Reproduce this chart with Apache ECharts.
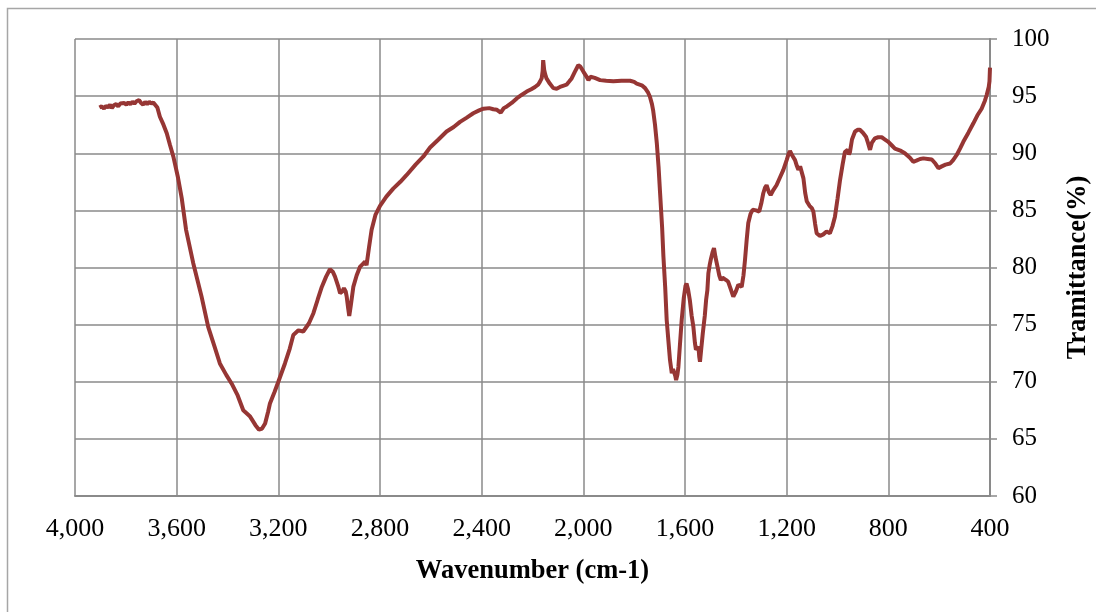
<!DOCTYPE html>
<html lang="en">
<head>
    <meta charset="UTF-8">
    <title>FTIR</title>
    <script src="https://cdn.jsdelivr.net/npm/echarts@6/dist/echarts.min.js"></script>
    <style>
        html, body { margin: 0; padding: 0; background: #fff; }
    </style>
</head>
<body>
<div id="main" style="width: 1096px; height: 612px;"></div>
<script type="text/javascript">

    // wavenumber (cm-1) and transmittance (%)
    const wavenumbers = [
        3904, 3895, 3886, 3878, 3870, 3862, 3855, 3847, 3838, 3830, 3822, 3815, 3806, 3798, 3790, 3782,
        3774, 3766, 3758, 3748, 3740, 3732, 3724, 3716, 3708, 3700, 3692, 3685, 3676, 3666, 3652, 3639,
        3626, 3613, 3595, 3580, 3563, 3535, 3502, 3476, 3450, 3430, 3405, 3384, 3360, 3338, 3311, 3290,
        3276, 3264, 3252, 3240, 3233, 3215, 3200, 3174, 3155, 3141, 3121, 3102, 3080, 3062, 3045, 3029,
        3012, 2997, 2985, 2977, 2965, 2957, 2948, 2942, 2935, 2931, 2925, 2921, 2916, 2905, 2892, 2879,
        2868, 2859, 2853, 2850, 2843, 2833, 2818, 2800, 2775, 2748, 2720, 2695, 2660, 2630, 2603, 2570,
        2538, 2510, 2485, 2460, 2433, 2410, 2393, 2370, 2354, 2340, 2325, 2313, 2301, 2282, 2262, 2243,
        2223, 2205, 2190, 2178, 2171, 2164, 2160, 2158, 2154, 2150, 2145, 2132, 2118, 2105, 2092, 2080,
        2066, 2055, 2046, 2034, 2020, 2012, 2000, 1990, 1980, 1972, 1967, 1955, 1934, 1910, 1882, 1850,
        1816, 1800, 1790, 1770, 1757, 1745, 1738, 1730, 1725, 1718, 1711, 1704, 1698, 1690, 1685, 1678,
        1672, 1665, 1659, 1652, 1647, 1643, 1638, 1635, 1630, 1626, 1620, 1613, 1605, 1598, 1594, 1588,
        1581, 1574, 1567, 1561, 1557, 1552, 1547, 1544, 1541, 1536, 1530, 1522, 1517, 1512, 1508, 1503,
        1499, 1492, 1486, 1480, 1472, 1465, 1459, 1452, 1446, 1438, 1430, 1420, 1410, 1400, 1390, 1383,
        1377, 1370, 1364, 1357, 1351, 1342, 1334, 1320, 1308, 1300, 1292, 1285, 1279, 1270, 1263, 1252,
        1240, 1226, 1213, 1200, 1193, 1187, 1178, 1167, 1160, 1154, 1147, 1141, 1134, 1127, 1121, 1110,
        1101, 1095, 1088, 1082, 1069, 1056, 1043, 1030, 1020, 1010, 1000, 990, 980, 971, 960, 955,
        951, 943, 931, 920, 912, 900, 888, 880, 872, 865, 853, 840, 826, 813, 800, 787,
        774, 750, 735, 728, 715, 702, 690, 675, 662, 645, 629, 615, 603, 590, 575, 557,
        545, 531, 518, 505, 485, 466, 450, 433, 420, 413, 405, 402, 400
    ]
    const transmittance = [
        94.0, 94.1, 93.9, 94.15, 94.0, 94.25, 93.95, 94.2, 94.3, 94.1, 94.35, 94.2, 94.4, 94.25, 94.45, 94.3,
        94.5, 94.35, 94.55, 94.65, 94.4, 94.25, 94.5, 94.3, 94.5, 94.35, 94.45, 94.35, 94.0, 93.2, 92.5, 91.75,
        90.7, 89.7, 87.9, 86.05, 83.3, 80.4, 77.45, 74.8, 73.0, 71.6, 70.6, 69.85, 68.8, 67.5, 66.95, 66.2,
        65.8, 65.9, 66.35, 67.4, 68.1, 69.1, 70.0, 71.6, 72.9, 74.1, 74.5, 74.4, 75.1, 76.0, 77.2, 78.3,
        79.2, 79.85, 79.6, 79.2, 78.4, 77.75, 77.9, 78.2, 77.9, 77.45, 76.4, 75.75, 76.5, 78.3, 79.3, 80.05,
        80.3, 80.5, 80.2, 80.05, 81.8, 83.3, 84.6, 85.4, 86.2, 86.9, 87.5, 88.1, 89.0, 89.7, 90.5, 91.2,
        91.9, 92.3, 92.75, 93.1, 93.5, 93.75, 93.9, 93.95, 93.85, 93.8, 93.55, 93.95, 94.1, 94.4, 94.8, 95.1,
        95.4, 95.6, 95.8, 96.0, 96.25, 96.55, 97.2, 98.15, 97.3, 96.9, 96.55, 96.1, 95.7, 95.65, 95.8, 95.9,
        96.0, 96.3, 96.55, 97.1, 97.7, 97.6, 97.15, 96.8, 96.4, 96.7, 96.85, 96.6, 96.4, 96.35, 96.3, 96.35,
        96.35, 96.25, 96.1, 95.95, 95.7, 95.3, 94.95, 94.3, 93.7, 92.5, 90.9, 88.8, 86.5, 83.5, 81.0, 78.3,
        75.4, 73.5, 71.9, 70.75, 71.1, 71.2, 70.5, 70.15, 70.6, 71.3, 73.2, 75.4, 77.3, 78.4, 78.6, 78.1,
        77.15, 75.8, 74.8, 73.4, 72.8, 72.9, 73.05, 72.2, 71.75, 72.9, 74.25, 75.8, 77.15, 78.0, 79.5, 80.2,
        80.65, 81.3, 81.7, 80.9, 80.05, 79.3, 78.9, 79.1, 79.2, 78.9, 78.75, 78.1, 77.45, 77.9, 78.5, 78.4,
        78.3, 79.3, 80.65, 82.5, 83.9, 84.7, 85.05, 85.0, 84.9, 85.6, 86.5, 87.0, 87.2, 86.6, 86.35, 86.8,
        87.2, 87.9, 88.55, 89.4, 89.9, 90.2, 89.8, 89.4, 88.9, 88.55, 88.85, 88.8, 87.8, 86.5, 85.8, 85.4,
        85.2, 84.9, 83.8, 83.0, 82.75, 82.9, 83.15, 83.0, 83.6, 84.45, 86.0, 87.65, 89.0, 90.1, 90.3, 89.9,
        90.1, 91.2, 91.9, 92.05, 92.05, 91.8, 91.45, 90.9, 90.3, 90.9, 91.3, 91.4, 91.4, 91.2, 91.0, 90.7,
        90.4, 90.2, 90.0, 90.0, 89.6, 89.25, 89.35, 89.5, 89.55, 89.5, 89.45, 89.1, 88.7, 88.85, 89.0, 89.1,
        89.4, 89.85, 90.4, 91.0, 91.8, 92.6, 93.3, 93.9, 94.6, 95.1, 95.8, 96.3, 97.5
    ]

    const xTicks = [400, 800, 1200, 1600, 2000, 2400, 2800, 3200, 3600, 4000]
    const yTicks = [60, 65, 70, 75, 80, 85, 90, 95, 100]

    const serif = '"Liberation Serif", "Times New Roman", serif'
    const gridColor = '#8a8a8a'

    let chart = echarts.init(document.getElementById('main'))

    chart.setOption({
        animation: false,
        textStyle: { fontFamily: serif },
        graphic: [{
            type: 'rect',
            shape: { x: 7.5, y: 8.5, width: 1200, height: 700 },
            style: { fill: 'none', stroke: '#a6a6a6', lineWidth: 1.5 },
            silent: true
        }],
        grid: { left: 75, right: 106, top: 39, bottom: 116, containLabel: false, outerBoundsMode: 'none' },
        xAxis: {
            type: 'value',
            inverse: true,
            min: xTicks[0],
            max: xTicks[xTicks.length - 1],
            interval: 400,
            name: 'Wavenumber (cm-1)',
            nameLocation: 'middle',
            nameGap: 62,
            nameTextStyle: { fontFamily: serif, fontSize: 26.5, fontWeight: 'bold', color: '#000' },
            axisLine: { show: true, lineStyle: { color: gridColor, width: 2 } },
            axisTick: { show: false },
            axisLabel: {
                margin: 20,
                fontFamily: serif, fontSize: 26, color: '#000',
                formatter: v => v.toLocaleString('en-US')
            },
            splitLine: { show: true, lineStyle: { color: gridColor, width: 1.5 } }
        },
        yAxis: {
            type: 'value',
            position: 'right',
            min: yTicks[0],
            max: yTicks[yTicks.length - 1],
            interval: 5,
            name: 'Tramittance(%)',
            nameLocation: 'middle',
            nameRotate: 90,
            nameGap: 75,
            nameTextStyle: { fontFamily: serif, fontSize: 26.5, fontWeight: 'bold', color: '#000' },
            axisLine: { show: true, lineStyle: { color: gridColor, width: 2 } },
            axisTick: { show: true, inside: false, length: 7, lineStyle: { color: gridColor, width: 1.5 } },
            axisLabel: { margin: 22, fontFamily: serif, fontSize: 25, color: '#000' },
            splitLine: { show: true, lineStyle: { color: gridColor, width: 1.5 } }
        },
        series: [{
            type: 'line',
            data: wavenumbers.map((w, i) => [w, transmittance[i]]),
            showSymbol: false,
            lineStyle: { color: '#963634', width: 4 },
            itemStyle: { color: '#963634' }
        }]
    })

</script>
</body>
</html>
